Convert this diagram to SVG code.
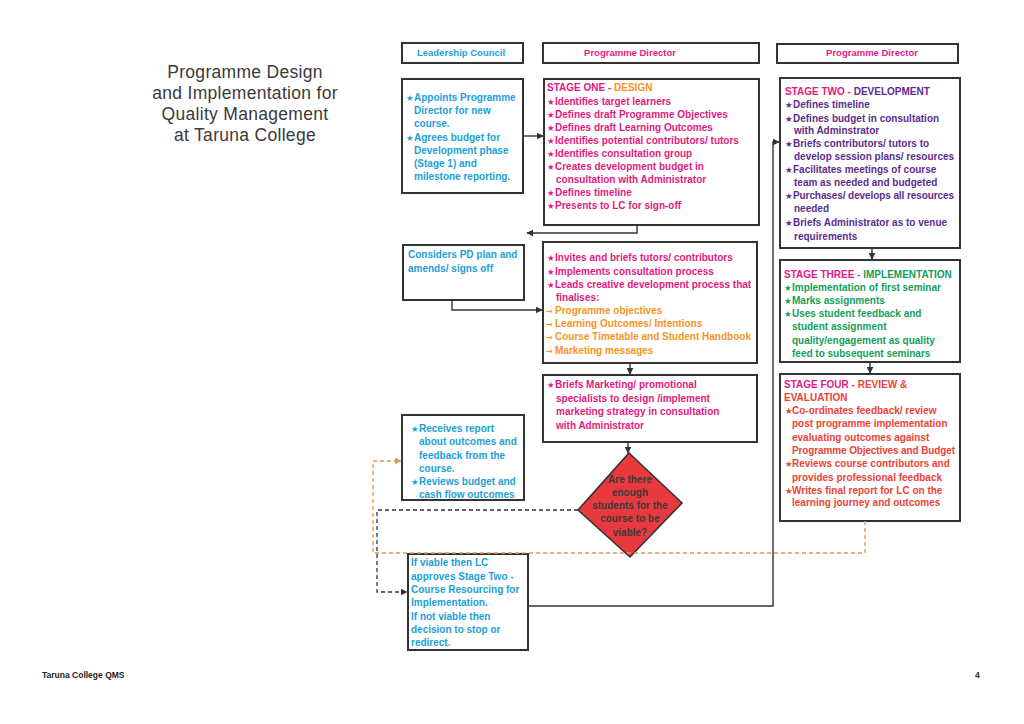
<svg xmlns="http://www.w3.org/2000/svg" width="1024" height="724" viewBox="0 0 1024 724">
<defs>
<style>
.bx{fill:#fff;stroke:#333;stroke-width:2}
.t{font-family:"Liberation Sans",Arial,sans-serif;font-weight:bold;font-size:10px}
.h{font-family:"Liberation Sans",Arial,sans-serif;font-weight:bold;font-size:9.5px;text-anchor:middle}
.s{font-size:8.5px;font-family:"DejaVu Sans",sans-serif}
.a{font-size:8px;font-family:"DejaVu Sans",sans-serif}
.cy{fill:#1ba1d8}.mg{fill:#e5197f}.pu{fill:#5c2d8e}.gr{fill:#12a05a}.or{fill:#f7941d}.rd{fill:#ef4136}
.ln{fill:none;stroke:#333;stroke-width:1.4}
.dk{fill:none;stroke:#333;stroke-width:1.3;stroke-dasharray:4 3}
.od{fill:none;stroke:#e8954a;stroke-width:1.3;stroke-dasharray:4 3}
</style>
<marker id="ar" viewBox="0 0 10 10" refX="9" refY="5" markerWidth="7" markerHeight="7" markerUnits="userSpaceOnUse" orient="auto"><path d="M0,0L10,5L0,10z" fill="#333"/></marker>
<marker id="ao" viewBox="0 0 10 10" refX="9" refY="5" markerWidth="7" markerHeight="7" markerUnits="userSpaceOnUse" orient="auto"><path d="M0,0L10,5L0,10z" fill="#e8954a"/></marker>
</defs>
<rect width="1024" height="724" fill="#fff"/>

<g id="title" font-family="Liberation Sans, Arial, sans-serif" font-size="17.5" fill="#3a3a3a" text-anchor="middle" letter-spacing="0.3">
<text x="245" y="78">Programme Design</text>
<text x="245" y="99">and Implementation for</text>
<text x="245" y="120">Quality Management</text>
<text x="245" y="141">at Taruna College</text>
</g>

<g id="hdr-lc"><rect class="bx" x="402" y="43" width="121" height="20"/><text class="h cy" x="461" y="56">Leadership Council</text></g>
<g id="hdr-pd1"><rect class="bx" x="543" y="43" width="216" height="20"/><text class="h mg" x="630" y="56">Programme Director</text></g>
<g id="hdr-pd2"><rect class="bx" x="777" y="44" width="181" height="19"/><text class="h mg" x="872" y="56">Programme Director</text></g>

<g id="lc1"><rect class="bx" x="402" y="79" width="121" height="114"/>
<text class="t cy"><tspan class="s" x="406" y="101">★</tspan><tspan x="414">Appoints Programme</tspan>
<tspan x="414" y="114">Director for new</tspan>
<tspan x="414" y="127">course.</tspan>
<tspan class="s" x="406" y="141">★</tspan><tspan x="414">Agrees budget for</tspan>
<tspan x="414" y="154">Development phase</tspan>
<tspan x="414" y="167">(Stage 1) and</tspan>
<tspan x="414" y="180">milestone reporting.</tspan></text></g>

<g id="stage1"><rect class="bx" x="544" y="79" width="215" height="146"/>
<text class="t mg">
<tspan x="547" y="91">STAGE ONE - </tspan><tspan class="or">DESIGN</tspan>
<tspan class="s" x="547" y="105">★</tspan><tspan x="555">Identifies target learners</tspan>
<tspan class="s" x="547" y="118">★</tspan><tspan x="555">Defines draft Programme Objectives</tspan>
<tspan class="s" x="547" y="131">★</tspan><tspan x="555">Defines draft Learning Outcomes</tspan>
<tspan class="s" x="547" y="144">★</tspan><tspan x="555">Identifies potential contributors/ tutors</tspan>
<tspan class="s" x="547" y="157">★</tspan><tspan x="555">Identifies consultation group</tspan>
<tspan class="s" x="547" y="170">★</tspan><tspan x="555">Creates development budget in</tspan>
<tspan x="556" y="183">consultation with Administrator</tspan>
<tspan class="s" x="547" y="196">★</tspan><tspan x="555">Defines timeline</tspan>
<tspan class="s" x="547" y="209">★</tspan><tspan x="555">Presents to LC for sign-off</tspan>
</text></g>

<g id="stage2"><rect class="bx" x="780" y="78" width="180" height="170"/>
<text class="t pu">
<tspan class="mg" x="785" y="95">STAGE TWO - </tspan><tspan>DEVELOPMENT</tspan>
<tspan class="s" x="785" y="108">★</tspan><tspan x="793">Defines timeline</tspan>
<tspan class="s" x="785" y="122">★</tspan><tspan x="793">Defines budget in consultation</tspan>
<tspan x="794" y="134">with Adminstrator</tspan>
<tspan class="s" x="785" y="147">★</tspan><tspan x="793">Briefs contributors/ tutors to</tspan>
<tspan x="794" y="160">develop session plans/ resources</tspan>
<tspan class="s" x="785" y="173">★</tspan><tspan x="793">Facilitates meetings of course</tspan>
<tspan x="794" y="186">team as needed and budgeted</tspan>
<tspan class="s" x="785" y="199">★</tspan><tspan x="793" textLength="161">Purchases/ develops all resources</tspan>
<tspan x="794" y="212">needed</tspan>
<tspan class="s" x="785" y="226">★</tspan><tspan x="793">Briefs Administrator as to venue</tspan>
<tspan x="794" y="240">requirements</tspan>
</text></g>

<g id="lc2"><rect class="bx" x="403" y="245" width="121" height="55"/>
<text class="t cy"><tspan x="408" y="258">Considers PD plan and</tspan><tspan x="408" y="272">amends/ signs off</tspan></text></g>

<g id="stage1b"><rect class="bx" x="543" y="242" width="214" height="121"/>
<text class="t mg">
<tspan class="s" x="547" y="261">★</tspan><tspan x="555">Invites and briefs tutors/ contributors</tspan>
<tspan class="s" x="547" y="275">★</tspan><tspan x="555">Implements consultation process</tspan>
<tspan class="s" x="547" y="288">★</tspan><tspan x="555">Leads creative development process that</tspan>
<tspan x="556" y="301">finalises:</tspan>
<tspan class="a or" x="546" y="314">→</tspan><tspan class="or" x="555">Programme objectives</tspan>
<tspan class="a or" x="546" y="327">→</tspan><tspan class="or" x="555">Learning Outcomes/ Intentions</tspan>
<tspan class="a or" x="546" y="340">→</tspan><tspan class="or" x="555">Course Timetable and Student Handbook</tspan>
<tspan class="a or" x="546" y="354">→</tspan><tspan class="or" x="555">Marketing messages</tspan>
</text></g>

<g id="stage3"><rect class="bx" x="780" y="260" width="180" height="102"/>
<text class="t gr">
<tspan class="mg" x="784" y="278">STAGE THREE - </tspan><tspan>IMPLEMENTATION</tspan>
<tspan class="s" x="784" y="291">★</tspan><tspan x="792">Implementation of first seminar</tspan>
<tspan class="s" x="784" y="304">★</tspan><tspan x="792">Marks assignments</tspan>
<tspan class="s" x="784" y="317">★</tspan><tspan x="792">Uses student feedback and</tspan>
<tspan x="792" y="330">student assignment</tspan>
<tspan x="792" y="344">quality/engagement as quality</tspan>
<tspan x="792" y="357">feed to subsequent seminars</tspan>
</text></g>

<g id="box3"><rect class="bx" x="543" y="375" width="214" height="67"/>
<text class="t mg">
<tspan class="s" x="547" y="388">★</tspan><tspan x="555">Briefs Marketing/ promotional</tspan>
<tspan x="556" y="402">specialists to design /implement</tspan>
<tspan x="556" y="415">marketing strategy in consultation</tspan>
<tspan x="556" y="429">with Administrator</tspan>
</text></g>

<g id="stage4"><rect class="bx" x="780" y="374" width="180" height="147"/>
<text class="t rd">
<tspan class="mg" x="784" y="388">STAGE FOUR - </tspan><tspan>REVIEW &amp;</tspan>
<tspan x="784" y="401">EVALUATION</tspan>
<tspan class="s" x="785" y="414">★</tspan><tspan x="792">Co-ordinates feedback/ review</tspan>
<tspan x="792" y="427">post programme implementation</tspan>
<tspan x="792" y="441">evaluating outcomes against</tspan>
<tspan x="792" y="454" textLength="163">Programme Objectives and Budget</tspan>
<tspan class="s" x="785" y="467">★</tspan><tspan x="792">Reviews course contributors and</tspan>
<tspan x="792" y="481">provides professional feedback</tspan>
<tspan class="s" x="785" y="494">★</tspan><tspan x="792">Writes final report for LC on the</tspan>
<tspan x="792" y="506">learning journey and outcomes</tspan>
</text></g>

<g id="lc3"><rect class="bx" x="402" y="415" width="122" height="85"/>
<text class="t cy">
<tspan class="s" x="411" y="432">★</tspan><tspan x="419">Receives report</tspan>
<tspan x="419" y="445">about outcomes and</tspan>
<tspan x="419" y="459">feedback from the</tspan>
<tspan x="419" y="472">course.</tspan>
<tspan class="s" x="411" y="485">★</tspan><tspan x="419">Reviews budget and</tspan>
<tspan x="419" y="498">cash flow outcomes</tspan>
</text></g>

<g id="decision"><path d="M629,453 L682,503 L630,557 L578,510 Z" fill="#e83a3e" stroke="#333" stroke-width="1.6"/>
<g class="t" fill="#3b3b3b" text-anchor="middle">
<text x="630" y="483">Are there</text>
<text x="630" y="496">enough</text>
<text x="630" y="509">students for the</text>
<text x="630" y="522">course to be</text>
<text x="630" y="536">viable?</text>
</g></g>

<g id="lc4"><rect class="bx" x="408" y="554" width="120" height="96"/>
<text class="t cy">
<tspan x="411" y="566">If viable then LC</tspan>
<tspan x="411" y="580">approves Stage Two -</tspan>
<tspan x="411" y="593">Course Resourcing for</tspan>
<tspan x="411" y="606">Implementation.</tspan>
<tspan x="411" y="620">If not viable then</tspan>
<tspan x="411" y="633">decision to stop or</tspan>
<tspan x="411" y="646">redirect.</tspan>
</text></g>

<g id="connectors">
<path class="ln" d="M523,136 H543" marker-end="url(#ar)"/>
<path class="ln" d="M637,225 V233 H527" marker-end="url(#ar)"/>
<path class="ln" d="M452,300 V310 H542" marker-end="url(#ar)"/>
<path class="ln" d="M630,363 V374" marker-end="url(#ar)"/>
<path class="ln" d="M628,442 V453" marker-end="url(#ar)"/>
<path class="ln" d="M872,248 V259" marker-end="url(#ar)"/>
<path class="ln" d="M870,362 V373" marker-end="url(#ar)"/>
<path class="dk" d="M578,510 H377 V592 H407" marker-end="url(#ar)"/>
<path class="od" d="M865,521 V553 H373 V461 H401" marker-end="url(#ao)"/>
<path class="ln" d="M528,606 H773 V142 H779" marker-end="url(#ar)" stroke-width="1.2"/>
</g>

<g id="footer" font-family="Liberation Sans, Arial, sans-serif" font-weight="bold" font-size="8.5" fill="#222">
<text x="42" y="678">Taruna College QMS</text>
<text x="975" y="678">4</text>
</g>
</svg>
